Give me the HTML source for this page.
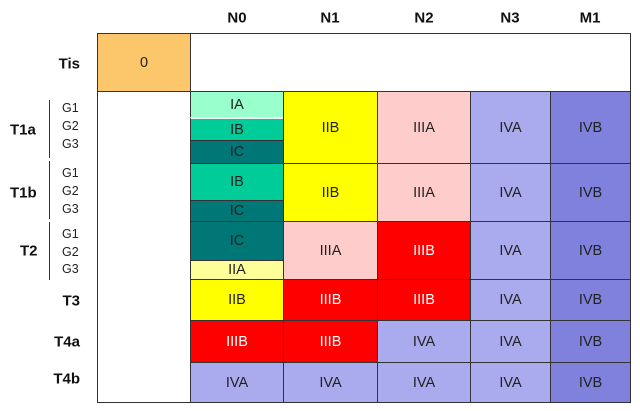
<!DOCTYPE html><html><head><style>
body{margin:0;width:640px;height:411px;background:#fff;font-family:"Liberation Sans",sans-serif;position:relative;overflow:hidden}
.c{position:absolute;box-sizing:border-box;display:flex;align-items:center;justify-content:center;font-size:14.5px;color:#222;border:1px solid #333}
.h{position:absolute;font-weight:bold;font-size:15px;color:#111;transform:translate(-50%,-50%)}
.r{position:absolute;font-weight:bold;font-size:15px;color:#111;transform:translateY(-50%);text-align:right}
.g{position:absolute;font-size:12.5px;color:#222;left:62px;transform:translateY(-50%)}
.b{position:absolute;left:49px;width:1px;background:#333}
</style></head><body>
<div class="h" style="left:237px;top:18px">N0</div>
<div class="h" style="left:330px;top:18px">N1</div>
<div class="h" style="left:424px;top:18px">N2</div>
<div class="h" style="left:510px;top:18px">N3</div>
<div class="h" style="left:590px;top:18px">M1</div>

<div class="c" style="left:97px;top:33px;width:534px;height:370px;background:#fff"></div>
<div class="c" style="left:97px;top:33px;width:94px;height:59px;background:#fcc66a">0</div>
<div class="c" style="left:190px;top:91px;width:441px;height:1px;border-width:1px 0 0 0"></div>

<div class="c" style="left:190px;top:91px;width:94px;height:27px;background:#99ffcc;border-bottom:1px solid #ccc">IA</div>
<div class="c" style="left:190px;top:117px;width:94px;height:24px;background:#00cc99;border-top:2px solid #eee">IB</div>
<div class="c" style="left:190px;top:140px;width:94px;height:24px;background:#007777">IC</div>
<div class="c" style="left:190px;top:163px;width:94px;height:38px;background:#00cc99">IB</div>
<div class="c" style="left:190px;top:200px;width:94px;height:22px;background:#007777">IC</div>
<div class="c" style="left:190px;top:221px;width:94px;height:40px;background:#007777">IC</div>
<div class="c" style="left:190px;top:260px;width:94px;height:20px;background:#ffff99">IIA</div>
<div class="c" style="left:190px;top:279px;width:94px;height:42px;background:#ffff00">IIB</div>
<div class="c" style="left:190px;top:320px;width:94px;height:43px;background:#ff0000;color:#fff">IIIB</div>
<div class="c" style="left:190px;top:362px;width:94px;height:41px;background:#aaaaee">IVA</div>

<div class="c" style="left:283px;top:91px;width:95px;height:73px;background:#ffff00">IIB</div>
<div class="c" style="left:283px;top:163px;width:95px;height:59px;background:#ffff00">IIB</div>
<div class="c" style="left:283px;top:221px;width:95px;height:59px;background:#ffcccc">IIIA</div>
<div class="c" style="left:283px;top:279px;width:95px;height:42px;background:#ff0000;color:#fff">IIIB</div>
<div class="c" style="left:283px;top:320px;width:95px;height:43px;background:#ff0000;color:#fff">IIIB</div>
<div class="c" style="left:283px;top:362px;width:95px;height:41px;background:#aaaaee">IVA</div>

<div class="c" style="left:377px;top:91px;width:94px;height:73px;background:#ffcccc">IIIA</div>
<div class="c" style="left:377px;top:163px;width:94px;height:59px;background:#ffcccc">IIIA</div>
<div class="c" style="left:377px;top:221px;width:94px;height:59px;background:#ff0000;color:#fff">IIIB</div>
<div class="c" style="left:377px;top:279px;width:94px;height:42px;background:#ff0000;color:#fff">IIIB</div>
<div class="c" style="left:377px;top:320px;width:94px;height:43px;background:#aaaaee">IVA</div>
<div class="c" style="left:377px;top:362px;width:94px;height:41px;background:#aaaaee">IVA</div>

<div class="c" style="left:470px;top:91px;width:81px;height:73px;background:#aaaaee">IVA</div>
<div class="c" style="left:470px;top:163px;width:81px;height:59px;background:#aaaaee">IVA</div>
<div class="c" style="left:470px;top:221px;width:81px;height:59px;background:#aaaaee">IVA</div>
<div class="c" style="left:470px;top:279px;width:81px;height:42px;background:#aaaaee">IVA</div>
<div class="c" style="left:470px;top:320px;width:81px;height:43px;background:#aaaaee">IVA</div>
<div class="c" style="left:470px;top:362px;width:81px;height:41px;background:#aaaaee">IVA</div>

<div class="c" style="left:550px;top:91px;width:81px;height:73px;background:#8080dd">IVB</div>
<div class="c" style="left:550px;top:163px;width:81px;height:59px;background:#8080dd">IVB</div>
<div class="c" style="left:550px;top:221px;width:81px;height:59px;background:#8080dd">IVB</div>
<div class="c" style="left:550px;top:279px;width:81px;height:42px;background:#8080dd">IVB</div>
<div class="c" style="left:550px;top:320px;width:81px;height:43px;background:#8080dd">IVB</div>
<div class="c" style="left:550px;top:362px;width:81px;height:41px;background:#8080dd">IVB</div>

<div class="r" style="right:560px;top:64px">Tis</div>
<div class="r" style="left:10px;top:130px">T1a</div>
<div class="r" style="left:10px;top:193px">T1b</div>
<div class="r" style="left:20px;top:251px">T2</div>
<div class="r" style="right:560px;top:301px">T3</div>
<div class="r" style="right:560px;top:342px">T4a</div>
<div class="r" style="right:560px;top:379px">T4b</div>
<div class="b" style="top:100px;height:58px"></div>
<div class="b" style="top:161px;height:58px"></div>
<div class="b" style="top:222px;height:58px"></div>
<div class="g" style="top:108px">G1</div>
<div class="g" style="top:126px">G2</div>
<div class="g" style="top:144px">G3</div>
<div class="g" style="top:173px">G1</div>
<div class="g" style="top:191px">G2</div>
<div class="g" style="top:209px">G3</div>
<div class="g" style="top:234px">G1</div>
<div class="g" style="top:252px">G2</div>
<div class="g" style="top:269px">G3</div>
</body></html>
